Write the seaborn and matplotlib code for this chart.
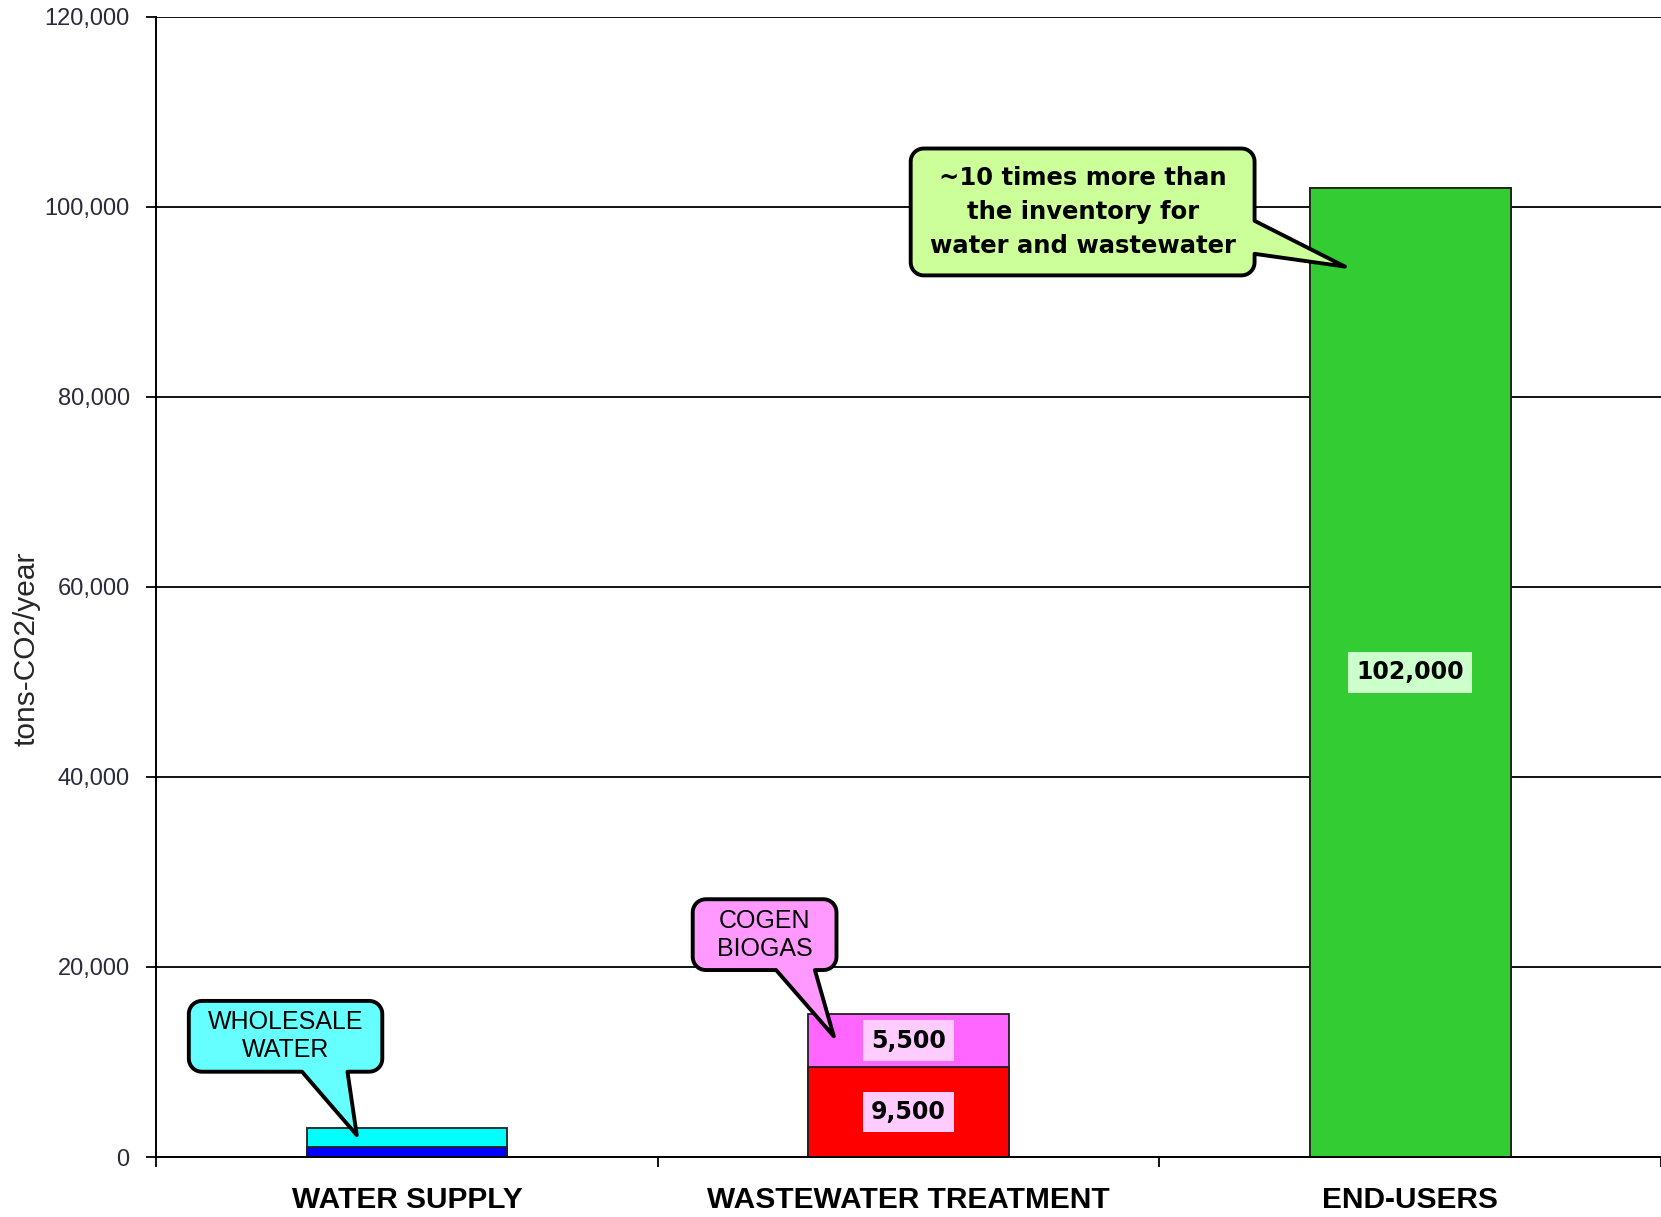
import matplotlib
matplotlib.use("Agg")
import numpy as np
import matplotlib.pyplot as plt
from matplotlib.patches import Polygon
from matplotlib.transforms import IdentityTransform
from matplotlib.ticker import FuncFormatter, FixedLocator
import seaborn as sns

# Emissions by sector (tons CO2 per year), split into stacked components
categories = ["WATER SUPPLY", "WASTEWATER TREATMENT", "END-USERS"]
base_values = [1000, 9500, 102000]      # lower segment of each bar
upper_values = [2000, 5500, 0]          # segment stacked on top
base_colors = ["#0000FF", "#FF0000", "#33CC33"]
upper_colors = ["#00FFFF", "#FF66FF", "#33CC33"]
y_ticks = [0, 20000, 40000, 60000, 80000, 100000, 120000]

sns.set_style("white")
plt.rcParams["font.family"] = ["Liberation Sans", "DejaVu Sans"]

fig = plt.figure(figsize=(16.61, 12.17), dpi=100)
ax = fig.add_axes([0.094, 0.0493, 0.906, 0.937])

totals = [b + u for b, u in zip(base_values, upper_values)]
bar_kw = dict(width=0.4, edgecolor="#202020", linewidth=1.3, legend=False,
              ax=ax, saturation=1)
# Stacked bars: draw full totals first, then the lower segments over them
sns.barplot(x=categories, y=totals, hue=categories, palette=upper_colors, **bar_kw)
sns.barplot(x=categories, y=base_values, hue=categories, palette=base_colors, **bar_kw)

ax.set_xlim(-0.5, 2.5)
ax.set_ylim(0, 120000)
ax.set_axisbelow(True)
ax.yaxis.grid(True, color="black", linewidth=1.3)
ax.xaxis.grid(False)

ax.set_yticks(y_ticks)
ax.yaxis.set_major_formatter(FuncFormatter(lambda v, p: f"{v:,.0f}"))
ax.tick_params(axis="y", which="major", left=True, direction="out", length=7,
               width=1.3, color="black", labelsize=17, labelcolor="#2a2a3a", pad=12)

ax.set_xticks(range(len(categories)))
ax.set_xticklabels(categories, fontsize=21.5, fontweight="bold")
ax.tick_params(axis="x", which="major", length=0, pad=21, labelcolor="black")
ax.xaxis.set_minor_locator(FixedLocator([-0.5, 0.5, 1.5, 2.5]))
ax.tick_params(axis="x", which="minor", bottom=True, direction="out", length=7,
               width=1.3, color="black")

for side in ("top", "right"):
    ax.spines[side].set_visible(False)
for side in ("left", "bottom"):
    ax.spines[side].set_color("black")
    ax.spines[side].set_linewidth(1.4)

ax.set_xlabel("")
ax.set_ylabel("tons-CO2/year", fontsize=21.5, va="center")
ax.yaxis.set_label_coords(-0.0864, 0.446)

# Value labels on the wastewater and end-user segments
label_boxes = ["#FFCCFF", "#FFCCFF", "#CCFFCC"]
for i in (1, 2):
    segs = [(base_values[i] / 2, base_values[i])]
    if upper_values[i]:
        segs.append((base_values[i] + upper_values[i] / 2, upper_values[i]))
    for ymid, val in segs:
        ax.text(i, ymid, f"{val:,}", ha="center", va="center", fontsize=17,
                fontweight="bold", family="DejaVu Sans", color="black", zorder=6,
                bbox=dict(boxstyle="square,pad=0.35", fc=label_boxes[i], ec="none"))


def _arc(cx, cy, r, a0, a1, n=10):
    t = np.radians(np.linspace(a0, a1, n))
    return list(zip(cx + r * np.cos(t), cy + r * np.sin(t)))


def callout(text, tip, center, side, span, fc, pad, **font):
    """Rounded speech bubble around `text` with a tail pointing at `tip`."""
    txt = ax.text(*center, text, ha="center", va="center", zorder=8,
                  color="black", **font)
    renderer = fig.canvas.get_renderer()
    bb = txt.get_window_extent(renderer)
    x0, x1 = bb.x0 - pad[0], bb.x1 + pad[0]
    y0, y1 = bb.y0 - pad[1], bb.y1 + pad[1]
    w, h = x1 - x0, y1 - y0
    r = 13
    tx, ty = ax.transData.transform(tip)
    pts = [(x0 + r, y0)]
    if side == "bottom":
        pts += [(x0 + span[0] * w, y0), (tx, ty), (x0 + span[1] * w, y0)]
    pts += [(x1 - r, y0)] + _arc(x1 - r, y0 + r, r, -90, 0)
    if side == "right":
        pts += [(x1, y1 - span[1] * h), (tx, ty), (x1, y1 - span[0] * h)]
    pts += _arc(x1 - r, y1 - r, r, 0, 90)
    pts += _arc(x0 + r, y1 - r, r, 90, 180)
    pts += _arc(x0 + r, y0 + r, r, 180, 270)
    bubble = Polygon(pts, closed=True, transform=IdentityTransform(), fc=fc,
                     ec="black", lw=2.8, joinstyle="round", zorder=7, clip_on=False)
    ax.add_artist(bubble)


callout("WHOLESALE\nWATER", (-0.1, 2300), (-0.242, 12700), "bottom", (0.585, 0.82),
        "#66FFFF", (19, 9.5), fontsize=18, linespacing=1.2)
callout("COGEN\nBIOGAS", (0.851, 12700), (0.713, 23400), "bottom", (0.58, 0.85),
        "#FF99FF", (24, 9.5), fontsize=18, linespacing=1.2)
callout("~10 times more than\nthe inventory for\nwater and wastewater",
        (1.87, 93700), (1.347, 99450), "right", (0.57, 0.83),
        "#CCFF99", (19, 17), fontsize=17.5, fontweight="bold",
        family="DejaVu Sans", linespacing=1.55)

fig.savefig("out.png", dpi=100)
